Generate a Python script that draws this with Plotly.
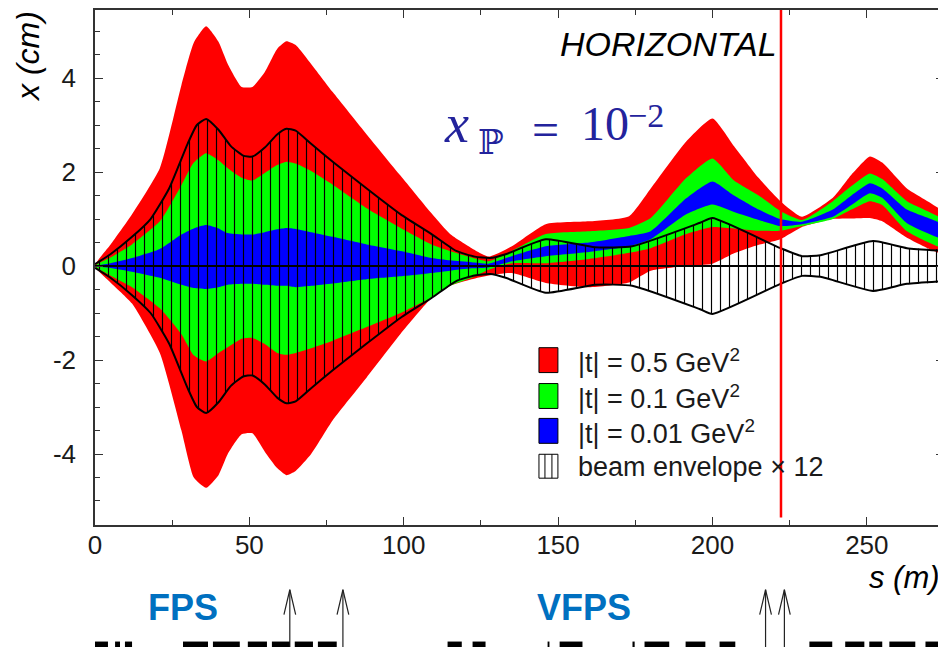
import plotly.graph_objects as go

# ---------------- data ----------------
S_BAND = [0, 5, 12, 21, 28, 32, 36, 40, 43, 47.5, 51, 55, 59, 62, 65, 70, 77, 88, 99, 109,
          115, 122, 127.5, 135, 146, 160, 173, 180, 191.5, 200, 207, 215, 222, 229, 239,
          245, 251, 255, 263, 275.5]
RED_UP = [0.0, 0.45, 1.1, 2.08, 3.85, 4.75, 5.1, 4.77, 4.3, 3.81, 3.81, 4.13, 4.62, 4.78, 4.7,
          4.3, 3.7, 2.8, 1.92, 1.12, 0.68, 0.38, 0.2, 0.42, 0.89, 0.95, 1.06, 1.65, 2.65, 3.14,
          2.55, 1.87, 1.38, 1.05, 1.45, 1.94, 2.33, 2.2, 1.65, 1.1]
RED_LO = [0.0, -0.35, -0.8, -1.85, -3.5, -4.5, -4.72, -4.45, -4.0, -3.58, -3.56, -3.95, -4.3,
          -4.45, -4.36, -4.0, -3.28, -2.37, -1.44, -0.68, -0.42, -0.28, -0.2, -0.15, -0.36,
          -0.45, -0.35, -0.1, 0.0, 0.05, 0.27, 0.45, 0.57, 0.83, 1.0, 1.01, 1.02, 0.95, 0.6, 0.25]
GREEN_UP = [0.0, 0.18, 0.46, 0.95, 1.72, 2.2, 2.4, 2.25, 2.08, 1.88, 1.82, 1.98, 2.15, 2.22,
            2.18, 2.02, 1.73, 1.23, 0.81, 0.46, 0.32, 0.18, 0.1, 0.32, 0.68, 0.74, 0.81, 1.02,
            1.87, 2.29, 1.82, 1.5, 1.17, 0.98, 1.38, 1.7, 1.97, 1.85, 1.38, 0.95]
GREEN_LO = [0.0, -0.2, -0.45, -0.9, -1.45, -1.9, -2.03, -1.85, -1.73, -1.55, -1.53, -1.66,
            -1.85, -1.89, -1.85, -1.75, -1.59, -1.3, -1.0, -0.67, -0.42, -0.25, -0.08, 0.06,
            0.06, 0.15, 0.28, 0.38, 0.68, 0.83, 0.8, 0.75, 0.75, 0.85, 1.0, 1.2, 1.38, 1.3,
            0.74, 0.38]
BLUE_UP = [0.0, 0.06, 0.17, 0.36, 0.67, 0.8, 0.87, 0.8, 0.7, 0.67, 0.67, 0.72, 0.78, 0.81,
           0.79, 0.72, 0.62, 0.46, 0.32, 0.17, 0.12, 0.08, 0.05, 0.21, 0.42, 0.5, 0.64, 0.74,
           1.44, 1.8, 1.5, 1.2, 1.0, 0.94, 1.2, 1.5, 1.76, 1.65, 1.2, 0.85]
BLUE_LO = [0.0, -0.04, -0.12, -0.25, -0.4, -0.47, -0.49, -0.45, -0.4, -0.38, -0.38, -0.4,
           -0.42, -0.42, -0.45, -0.42, -0.37, -0.28, -0.22, -0.15, -0.1, -0.05, -0.03, 0.1,
           0.21, 0.3, 0.42, 0.57, 1.1, 1.31, 1.15, 0.98, 0.85, 0.89, 1.05, 1.3, 1.55, 1.45,
           0.91, 0.57]

S_ENV = [0, 5, 12, 18, 24, 30, 33, 36, 40, 44, 48, 51, 55, 59, 62, 65, 70, 77, 88, 99, 109,
         117, 123, 128, 133, 146, 162, 174, 196, 200, 222, 229, 235, 252, 263, 275.5]
ENV_HALF = [0.04, 0.25, 0.62, 1.0, 1.65, 2.6, 3.0, 3.13, 2.9, 2.55, 2.35, 2.33, 2.52, 2.8,
            2.92, 2.88, 2.6, 2.22, 1.65, 1.1, 0.68, 0.32, 0.2, 0.17, 0.25, 0.57, 0.4, 0.42,
            0.92, 1.02, 0.38, 0.21, 0.23, 0.53, 0.38, 0.32]

RED_LINE_S = 222.2
FPS_ARROWS_S = [63.1, 80.3]
VFPS_ARROWS_S = [217.2, 223.3]
ELEMENTS = [(0, 4.2), (6.5, 8.1), (9.7, 12), (28.5, 36.6), (38.2, 46.9), (49.5, 55.7),
            (57.3, 63.1), (64.7, 70.6), (72.2, 78.3), (114.2, 118.8), (122.3, 126.5),
            (146.6, 147.2), (150.5, 157.9), (174.1, 174.8), (178, 186), (191.3, 197.7),
            (202.3, 207.4), (231.4, 238.8), (243, 249.2), (250.8, 255), (257.3, 265.7),
            (269, 274.4)]

X_RANGE = [0, 275.0]
X_TICKS = [0, 50, 100, 150, 200, 250]
X_TICK_LABELS = ["0", "50", "100", "150", "200", "250"]
Y_TICKS = [-4, -2, 0, 2, 4]
Y_TICK_LABELS = ["-4", "-2", "0", "2", "4"]

LEGEND_LABELS = ["|t| = 0.5 GeV<sup>2</sup>", "|t| = 0.1 GeV<sup>2</sup>",
                 "|t| = 0.01 GeV<sup>2</sup>", "beam envelope \u00d7 12"]
BAND_COLORS = ["#ff0000", "#00ff00", "#0000ff"]

FONT = "Liberation Sans, Arial, sans-serif"

# page layout: the figure sits at (8, 8) inside the browser page (default body margin)
PLOT_L, PLOT_R, PLOT_T, PLOT_B = 95, 946, 8, 525


def PX(px):
    return (px - PLOT_L) / (PLOT_R - PLOT_L)


def PY(py):
    return (PLOT_B - py) / (PLOT_B - PLOT_T)


SMOOTH = 0.5

# ---------------- figure ----------------
fig = go.Figure()


def band(up, lo, color):
    xs = list(S_BAND) + list(S_BAND[::-1])
    ys = list(up) + list(lo[::-1])
    fig.add_trace(go.Scatter(x=xs, y=ys, fill="toself", fillcolor=color, mode="lines",
                             line=dict(width=0, color=color, shape="spline",
                                       smoothing=SMOOTH),
                             hoverinfo="skip", showlegend=False))


band(RED_UP, RED_LO, BAND_COLORS[0])
band(GREEN_UP, GREEN_LO, BAND_COLORS[1])
band(BLUE_UP, BLUE_LO, BAND_COLORS[2])

# hatched beam envelope
env_x = list(S_ENV) + list(S_ENV[::-1])
env_y = list(ENV_HALF) + [-v for v in ENV_HALF[::-1]]
fig.add_trace(go.Scatter(x=env_x, y=env_y, fill="toself", fillcolor="rgba(0,0,0,0)",
                         mode="lines", line=dict(width=0, shape="spline", smoothing=SMOOTH),
                         fillpattern=dict(shape="|", size=9, solidity=0.13, fgcolor="black",
                                          bgcolor="rgba(0,0,0,0)", fgopacity=1),
                         hoverinfo="skip", showlegend=False))
for sign in (1, -1):
    fig.add_trace(go.Scatter(x=list(S_ENV), y=[sign * v for v in ENV_HALF],
                             mode="lines",
                             line=dict(color="black", width=2, shape="spline",
                                       smoothing=SMOOTH),
                             hoverinfo="skip", showlegend=False))

# central axis line
fig.add_trace(go.Scatter(x=[S_BAND[0], S_BAND[-1]], y=[0, 0], mode="lines",
                         line=dict(color="black", width=2), hoverinfo="skip",
                         showlegend=False))

shapes = []
# red vertical line
shapes.append(dict(type="line", xref="x", yref="y", x0=RED_LINE_S, x1=RED_LINE_S,
                   y0=-5.35, y1=5.45, line=dict(color="#ff0000", width=2.5)))

# arrows below the axis
for s in FPS_ARROWS_S + VFPS_ARROWS_S:
    shapes.append(dict(type="line", xref="x", yref="paper", x0=s, x1=s, y0=PY(650),
                       y1=PY(590), line=dict(color="#222222", width=1.2)))
    shapes.append(dict(type="path", xref="x", yref="paper",
                       path=f"M {s-1.9},{PY(615)} L {s},{PY(590)} L {s+1.9},{PY(615)}",
                       line=dict(color="#222222", width=1.2)))

# beamline elements at the very bottom
for a, b in ELEMENTS:
    shapes.append(dict(type="rect", xref="x", yref="paper", x0=a, x1=b, y0=PY(652),
                       y1=PY(642), fillcolor="black", line=dict(width=0)))

# manual legend
box_x0, box_x1 = PX(540), PX(559)
box_rows = [(347, 372), (383, 408), (418, 443), (454, 478)]
fills = BAND_COLORS + ["white"]
for (t, b), c in zip(box_rows, fills):
    shapes.append(dict(type="rect", xref="paper", yref="paper", x0=box_x0, x1=box_x1,
                       y0=PY(b), y1=PY(t), fillcolor=c, line=dict(color="black", width=1)))
t, b = box_rows[3]
for px in (546, 553):
    shapes.append(dict(type="line", xref="paper", yref="paper", x0=PX(px), x1=PX(px),
                       y0=PY(b), y1=PY(t), line=dict(color="black", width=1)))

annotations = []
for (t, b), lab in zip(box_rows, LEGEND_LABELS):
    annotations.append(dict(text=lab, xref="paper", yref="paper", x=PX(577),
                            y=PY((t + b) / 2 + 1), xanchor="left", yanchor="middle",
                            showarrow=False, font=dict(family=FONT, size=27, color="#1a1a1a")))

SERIF = "Liberation Serif, DejaVu Serif, serif"
XCOL = "#23239c"


def math_piece(text, px, py, size):
    return dict(text=text, xref="paper", yref="paper", x=PX(px), y=PY(py), xanchor="left",
                yanchor="middle", showarrow=False,
                font=dict(family=SERIF, size=size, color=XCOL))


annotations += [
    dict(text="<i>HORIZONTAL</i>", xref="paper", yref="paper", x=PX(781),
         y=PY(42), xanchor="right", yanchor="middle", showarrow=False,
         font=dict(family=FONT, size=34, color="black")),
    math_piece("<i>x</i>", 443, 122, 54),
    math_piece("\u2119", 477, 141, 34),
    math_piece("=", 531, 128, 48),
    math_piece("10", 580, 122, 48),
    math_piece("\u22122", 627, 114, 34),
    dict(text="<i>s (m)</i>", xref="paper", yref="paper", x=PX(944),
         y=PY(578), xanchor="right", yanchor="middle", showarrow=False,
         font=dict(family=FONT, size=31, color="black")),
    dict(text="<i>x (cm)</i>", xref="paper", yref="paper", x=PX(28),
         y=PY(55), xanchor="center", yanchor="middle", textangle=-90,
         showarrow=False, font=dict(family=FONT, size=32, color="black")),
    dict(text="<b>FPS</b>", xref="paper", yref="paper", x=PX(183),
         y=PY(608), xanchor="center", yanchor="middle", showarrow=False,
         font=dict(family=FONT, size=36, color="#0070c0")),
    dict(text="<b>VFPS</b>", xref="paper", yref="paper", x=PX(585),
         y=PY(608), xanchor="center", yanchor="middle", showarrow=False,
         font=dict(family=FONT, size=36, color="#0070c0")),
]

Y0 = 265  # pixel row of x = 0
SCALE = 47.18  # pixels per cm
fig.update_layout(
    width=946 - 8, height=647 - 8,
    margin=dict(l=PLOT_L - 8, r=0, t=PLOT_T - 8, b=647 - PLOT_B),
    paper_bgcolor="white", plot_bgcolor="white",
    showlegend=False,
    shapes=shapes, annotations=annotations,
    xaxis=dict(range=X_RANGE, tickvals=X_TICKS, ticktext=X_TICK_LABELS,
               ticks="inside", ticklen=8, tickwidth=1.2, tickcolor="#333333",
               showline=True, linecolor="#333333", linewidth=1.5, mirror="ticks",
               showgrid=False, zeroline=False, ticklabelstandoff=-4,
               minor=dict(dtick=25, tick0=0, ticks="inside", ticklen=5,
                          tickcolor="#333333", showgrid=False),
               tickfont=dict(family=FONT, size=26, color="#1a1a1a")),
    yaxis=dict(range=[-(PLOT_B - Y0) / SCALE, (Y0 - PLOT_T) / SCALE],
               tickvals=Y_TICKS, ticktext=Y_TICK_LABELS,
               ticks="inside", ticklen=8, tickwidth=1.2, tickcolor="#333333",
               showline=True, linecolor="#333333", linewidth=1.5, mirror="ticks",
               showgrid=False, zeroline=False, ticklabelstandoff=12,
               minor=dict(dtick=0.5, tick0=0, ticks="inside", ticklen=5,
                          tickcolor="#333333", showgrid=False),
               tickfont=dict(family=FONT, size=26, color="#1a1a1a")),
)

fig.write_html("out.html")
